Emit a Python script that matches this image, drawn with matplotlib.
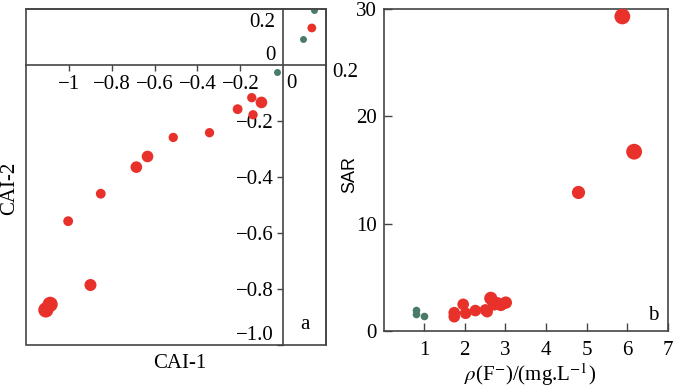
import matplotlib
matplotlib.use("Agg")
import matplotlib.pyplot as plt
from matplotlib.patches import Rectangle

plt.rcParams["font.family"] = ["Liberation Serif", "DejaVu Serif"]
plt.rcParams["mathtext.fontset"] = "stix"

RED = "#e8312a"
GREEN = "#4a7b68"
AXC = "#444444"

# panel a: CAI-1 / CAI-2
a_green_x = [0.141, 0.094, -0.028]
a_green_y = [0.195, 0.093, -0.025]
a_red_x = [0.133, -0.147, -0.102, -0.213, -0.141, -0.344, -0.513, -0.633,
           -0.685, -0.851, -1.003, -0.899, -1.087, -1.107]
a_red_y = [0.132, -0.117, -0.134, -0.158, -0.178, -0.242, -0.259, -0.327,
           -0.365, -0.460, -0.558, -0.786, -0.855, -0.875]
a_red_s = [40, 45, 70, 50, 45, 45, 45, 70, 70, 50, 50, 75, 120, 120]

# panel b: fluoride vs SAR
b_green_x = [0.79, 0.79, 1.0]
b_green_y = [1.96, 1.6, 1.37]
b_red_x = [5.88, 6.17, 4.80, 1.74, 1.74, 1.96, 2.02, 2.26, 2.51, 2.55,
           2.64, 2.72, 2.80, 3.01, 2.89]
b_red_y = [29.3, 16.7, 12.9, 1.33, 1.7, 2.48, 1.65, 1.9, 1.96, 1.8,
           3.04, 2.48, 2.58, 2.64, 2.43]
b_red_s = [130, 130, 90, 70, 70, 70, 70, 70, 70, 70, 90, 80, 80, 80, 80]

a_xticks = [-1, -0.8, -0.6, -0.4, -0.2]
a_xlabels = ["\u22121", "\u22120.8", "\u22120.6", "\u22120.4", "\u22120.2"]
a_yticks = [-1.0, -0.8, -0.6, -0.4, -0.2]
a_ylabels = ["\u22121.0", "\u22120.8", "\u22120.6", "\u22120.4", "\u22120.2"]

fig = plt.figure(figsize=(7, 3.88), dpi=100)

# ---- panel a
ax1 = fig.add_axes([0.037, 0.111, 0.429, 0.866])
ax1.scatter(a_green_x, a_green_y, s=25, color=GREEN, lw=0, zorder=3)
ax1.scatter(a_red_x, a_red_y, s=a_red_s, color=RED, lw=0, zorder=3)
ax1.set_xlim(-1.2, 0.2)
ax1.set_ylim(-1.0, 0.2)
for side in ["left", "bottom"]:
    ax1.spines[side].set_position(("data", 0))
for sp in ax1.spines.values():
    sp.set_color(AXC)
    sp.set_linewidth(1.2)
ax1.add_patch(Rectangle((0, 0), 1, 1, transform=ax1.transAxes, fill=False,
                        ec=AXC, lw=1.2, clip_on=False, zorder=5))
ax1.set_xticks(a_xticks)
ax1.set_xticklabels(a_xlabels)
ax1.set_yticks(a_yticks)
ax1.set_yticklabels(a_ylabels)
ax1.tick_params(direction="out", length=4, width=1, color=AXC, labelsize=15, pad=3)
ax1.get_yticklabels()[0].set_va("bottom")
ax1.text(-0.037, 0.152, "0.2", fontsize=15, ha="right", va="center")
ax1.text(-0.037, 0.035, "0", fontsize=15, ha="right", va="center")
ax1.text(0.037, -0.067, "0", fontsize=15, ha="center", va="center")
ax1.text(0.288, -0.028, "0.2", fontsize=15, ha="center", va="center", clip_on=False)
ax1.text(0.102, -0.926, "a", fontsize=15, ha="center", va="center")
fig.text(180 / 700, 1 - 363 / 388, "CAI-1", fontsize=15, ha="center", va="center")
fig.text(10 / 700, 1 - 188 / 388, "CAI-2", fontsize=15, ha="center", va="center", rotation=90)

# ---- panel b
ax2 = fig.add_axes([0.548, 0.147, 0.406, 0.830])
ax2.scatter(b_green_x, b_green_y, s=30, color=GREEN, lw=0, zorder=3)
ax2.scatter(b_red_x, b_red_y, s=b_red_s, color=RED, lw=0, zorder=3)
ax2.set_xlim(0, 7)
ax2.set_ylim(0, 30)
ax2.set_xticks(range(1, 8))
ax2.set_yticks([0, 10, 20, 30])
for sp in ax2.spines.values():
    sp.set_color(AXC)
    sp.set_linewidth(1.2)
ax2.tick_params(axis="x", direction="in", length=6, width=1, color=AXC, labelsize=15, pad=7)
ax2.tick_params(axis="y", direction="in", length=6, width=1, color=AXC, labelsize=15, pad=5)
ax2.text(6.63, 1.4, "b", fontsize=15, ha="center", va="center")
fig.text(350 / 700, 1 - 175 / 388, "SAR", fontsize=13, ha="center", va="center",
         rotation=90, family="Liberation Sans")
fig.text(530 / 700, 1 - 375 / 388, r"$\rho$(F$^{-}$)/(mg.L$^{-1}$)", fontsize=15,
         ha="center", va="center")

fig.savefig("out.png", dpi=100)
